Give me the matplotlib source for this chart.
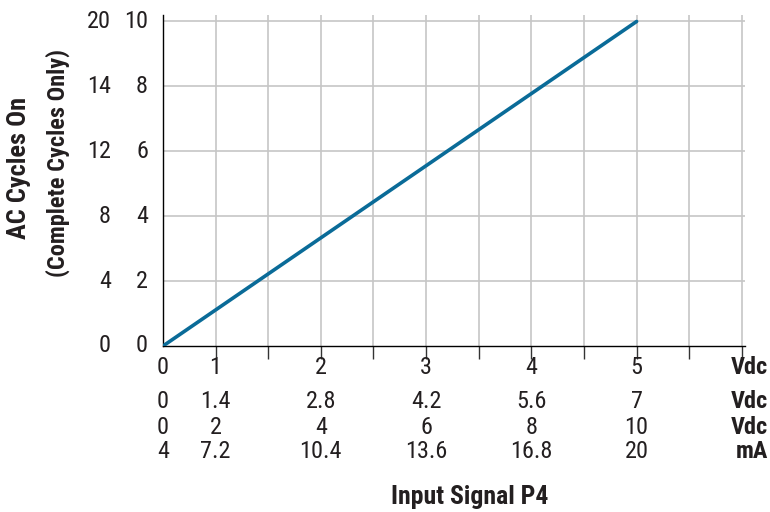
import numpy as np
import matplotlib
matplotlib.use("Agg")
import matplotlib.pyplot as plt

# ---- data ----
signal_vdc = [0, 5]          # input signal (0-5 Vdc range)
cycles_on = [0, 10]          # AC cycles on (10-cycle scale)

x_ticks = [0, 1, 2, 3, 4, 5]
row_labels = [
    ["0", "1", "2", "3", "4", "5"],
    ["0", "1.4", "2.8", "4.2", "5.6", "7"],
    ["0", "2", "4", "6", "8", "10"],
    ["4", "7.2", "10.4", "13.6", "16.8", "20"],
]
row_units = ["Vdc", "Vdc", "Vdc", "mA"]

y_ticks = [0, 2, 4, 6, 8, 10]
y_labels_inner = ["0", "2", "4", "6", "8", "10"]
y_labels_outer = ["0", "4", "8", "12", "14", "20"]

# ---- fonts ----
plt.rcParams["font.family"] = ["Roboto Condensed", "Barlow Semi Condensed", "DejaVu Sans"]
plt.rcParams["font.stretch"] = "condensed"

fig = plt.figure(figsize=(7.7, 5.12), dpi=100)
ax = fig.add_axes([163 / 770, 1 - 346 / 512, 582 / 770, 331 / 512])

def fwd(x):
    x = np.asarray(x, dtype=float)
    return np.where(x < 1, 0.5 + 0.5 * x, x)

def inv(p):
    p = np.asarray(p, dtype=float)
    return np.where(p < 1, (p - 0.5) * 2, p)

ax.set_xscale("function", functions=(fwd, inv))
ax.set_xlim(0, 6.03)
ax.set_ylim(0, 10.2)

grid_c = "#c6c6c6"
for gx in np.arange(1, 6.01, 0.5):
    ax.axvline(gx, color=grid_c, lw=1.2, zorder=1)
for gy in y_ticks[1:]:
    ax.axhline(gy, color=grid_c, lw=1.2, zorder=1)

ax.plot(signal_vdc, cycles_on, color="#0a6b98", lw=2.6, solid_capstyle="round", zorder=3)

for s in ["top", "right"]:
    ax.spines[s].set_visible(False)
ax.spines["left"].set_color("black")
ax.spines["bottom"].set_color("black")
ax.spines["left"].set_linewidth(1.0)
ax.spines["bottom"].set_linewidth(1.0)

ax.set_xticks(np.arange(1, 6.01, 0.5))
ax.set_xticklabels([])
ax.tick_params(axis="x", direction="out", length=9, width=1.0, color="#333333")
ax.set_yticks([])

fs = 17.5
tc = "#231f20"
xt = ax.get_xaxis_transform()
row_y = [368, 401, 427, 452]
for labels, unit, py in zip(row_labels, row_units, row_y):
    ya = (346 - py) / 331
    for xv, lab in zip(x_ticks, labels):
        ax.text(xv, ya, lab, transform=xt, ha="center", va="center", fontsize=fs,
                color=tc, clip_on=False)
    fig.text(768 / 770, 1 - py / 512, unit, ha="right", va="center", fontsize=fs,
             fontweight="bold", color=tc)

yt = ax.get_yaxis_transform()
for yv, a, b in zip(y_ticks, y_labels_inner, y_labels_outer):
    ax.text(-(163 - 148) / 582, yv, a, transform=yt, ha="right", va="center",
            fontsize=fs, color=tc, clip_on=False)
    ax.text(-(163 - 111) / 582, yv, b, transform=yt, ha="right", va="center",
            fontsize=fs, color=tc, clip_on=False)

fig.text(19 / 770, 1 - 168 / 512, "AC Cycles On", rotation=90, ha="center", va="center",
         fontsize=19, fontweight="bold", color=tc)
fig.text(58 / 770, 1 - 163 / 512, "(Complete Cycles Only)", rotation=90, ha="center",
         va="center", fontsize=17.5, fontweight="bold", color=tc)
fig.text(470 / 770, 1 - 497 / 512, "Input Signal P4", ha="center", va="center",
         fontsize=18.5, fontweight="bold", color=tc)

fig.savefig("out.png", dpi=100)
